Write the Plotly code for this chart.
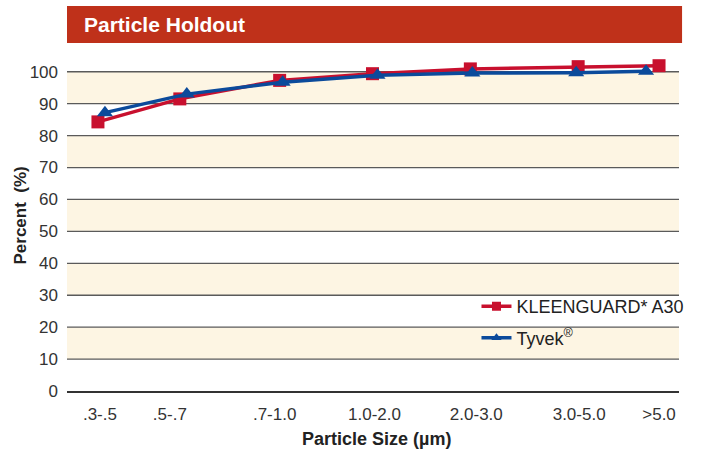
import plotly.graph_objects as go

# ---- data ----
categories = [".3-.5", ".5-.7", ".7-1.0", "1.0-2.0", "2.0-3.0", "3.0-5.0", ">5.0"]
cat_pos = [0.33, 1.03, 2.08, 3.08, 4.10, 5.13, 5.93]          # uneven category positions on the axis
kleenguard_x = [0.31, 1.13, 2.13, 3.06, 4.04, 5.12, 5.93]
kleenguard_y = [84.3, 91.5, 97.3, 99.4, 100.9, 101.6, 101.9]
tyvek_x = [0.38, 1.20, 2.16, 3.11, 4.06, 5.10, 5.80]
tyvek_y = [87.2, 93.0, 96.7, 98.9, 99.6, 99.7, 100.2]
y_ticks = [0, 10, 20, 30, 40, 50, 60, 70, 80, 90, 100]
bands = [(10, 20), (30, 40), (50, 60), (70, 80), (90, 100)]

RED = "#C8102E"
BLUE = "#0B4A9B"
FONT = "Liberation Sans"

fig = go.Figure()
fig.add_trace(go.Scatter(
    x=kleenguard_x, y=kleenguard_y, mode="lines+markers", name="KLEENGUARD* A30",
    line=dict(color=RED, width=3.5), marker=dict(symbol="square", size=13, color=RED),
    cliponaxis=False, showlegend=False))
fig.add_trace(go.Scatter(
    x=tyvek_x, y=tyvek_y, mode="lines+markers", name="Tyvek®",
    line=dict(color=BLUE, width=3.5), marker=dict(symbol="triangle-up", size=14, color=BLUE),
    cliponaxis=False, showlegend=False))
# legend entries (smaller symbols, as in the reference legend)
fig.add_trace(go.Scatter(
    x=[None], y=[None], mode="lines+markers", name="KLEENGUARD* A30",
    line=dict(color=RED, width=3.5), marker=dict(symbol="square", size=9, color=RED),
    legendgroup="a"))
fig.add_trace(go.Scatter(
    x=[None], y=[None], mode="lines+markers", name="Tyvek<sup>®</sup>",
    line=dict(color=BLUE, width=3.5), marker=dict(symbol="triangle-up", size=9, color=BLUE),
    legendgroup="b"))

shapes = []
for lo, hi in bands:
    shapes.append(dict(type="rect", xref="paper", yref="y", x0=0, x1=1, y0=lo, y1=hi,
                       fillcolor="#FDF5E3", line=dict(width=0), layer="below"))
for v in y_ticks[1:]:
    shapes.append(dict(type="line", xref="paper", yref="y", x0=0, x1=1, y0=v, y1=v,
                       line=dict(color="#5a5a5a", width=1.3), layer="below"))
# title bar
shapes.append(dict(type="rect", xref="paper", yref="paper", x0=0, x1=1.005, y0=1.048, y1=1.16,
                   fillcolor="#BF311A", line=dict(width=0)))

fig.update_layout(
    width=701, height=449,
    margin=dict(l=67, r=21, t=59, b=58),
    paper_bgcolor="white", plot_bgcolor="rgba(0,0,0,0)",
    font=dict(family=FONT, color="#333333", size=16),
    shapes=shapes,
    showlegend=True,
    legend=dict(x=0.668, y=0.31, xanchor="left", yanchor="top", bgcolor="rgba(0,0,0,0)",
                font=dict(family=FONT, size=18, color="#222222"), tracegroupgap=5),
    annotations=[
        dict(text="<b>Particle Holdout</b>", xref="paper", yref="paper", x=0.024, y=1.104,
             xanchor="left", yanchor="middle", showarrow=False,
             font=dict(family=FONT, size=21, color="white")),
        dict(text="<b>Particle Size (µm)</b>", xref="paper", yref="paper", x=0.506, y=-0.145,
             xanchor="center", yanchor="middle", showarrow=False,
             font=dict(family=FONT, size=18, color="#222222")),
        dict(text="<b>Percent\u00a0\u00a0(%)</b>", xref="paper", yref="paper", x=-0.076, y=0.53,
             xanchor="center", yanchor="middle", showarrow=False, textangle=-90,
             font=dict(family=FONT, size=17, color="#222222")),
    ],
)
fig.update_xaxes(range=[0, 6.13], tickvals=cat_pos, ticktext=categories, showgrid=False,
                 zeroline=False, showline=True, linecolor="#333333", linewidth=2,
                 ticks="", ticklabelstandoff=7, tickfont=dict(size=17, color="#333333"))
fig.update_yaxes(range=[0, 104], tickvals=y_ticks, showgrid=False, zeroline=False,
                 showline=False, ticks="", ticklabelstandoff=8,
                 tickfont=dict(size=17, color="#333333"))

fig.write_html("out.html", config={"displayModeBar": False},
               post_script="document.body.style.margin='0px';")
